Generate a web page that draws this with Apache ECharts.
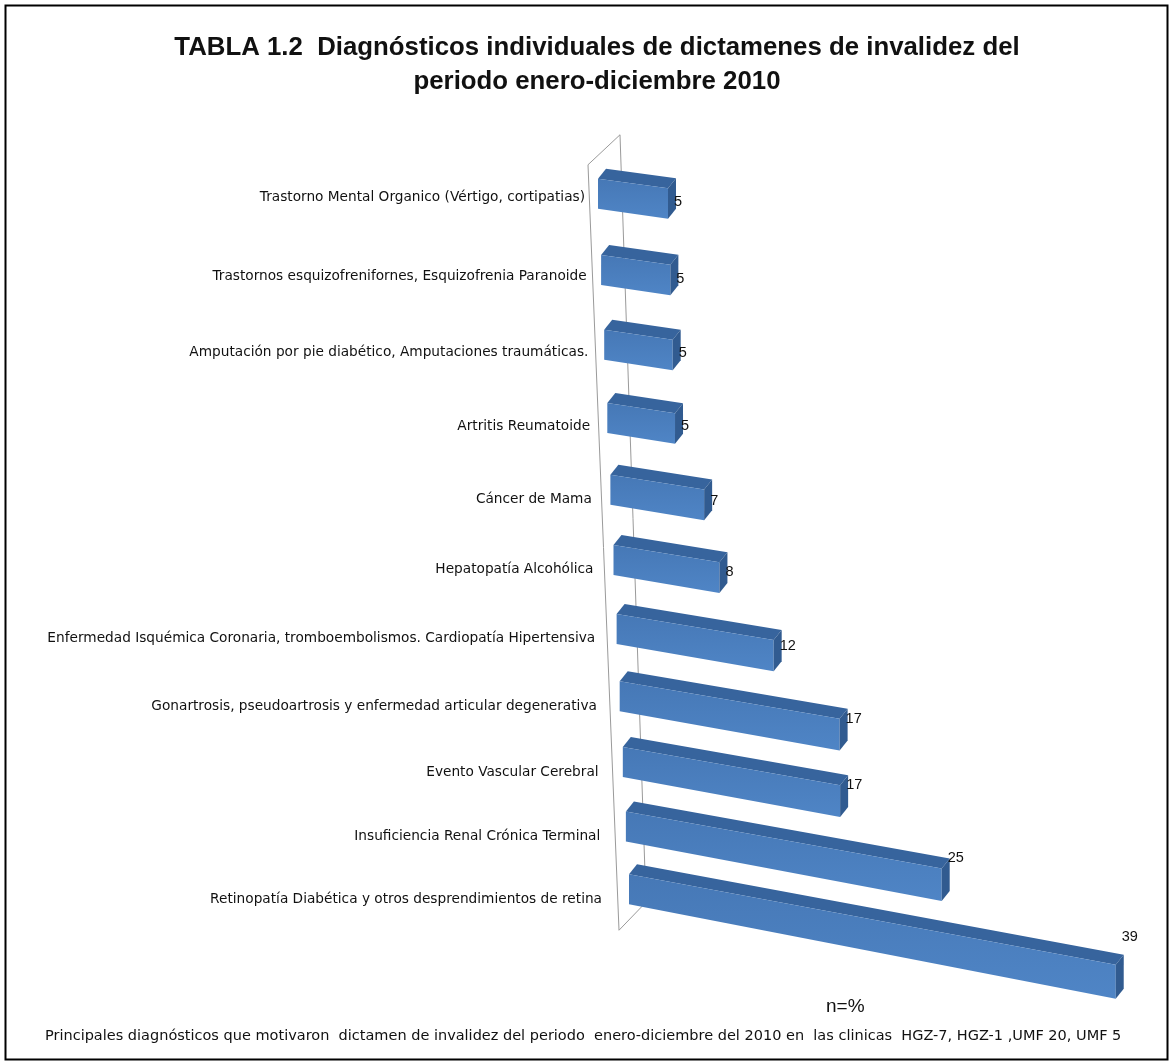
<!DOCTYPE html>
<html>
<head>
<meta charset="utf-8">
<script src="https://cdn.jsdelivr.net/npm/echarts/dist/echarts.min.js"></script>
<style>
html,body{margin:0;padding:0;background:#fff;}
#chart{width:1169px;height:1062px;}
</style>
</head>
<body>
<div id="chart"></div>
<script>
// ---- data (top to bottom as drawn) ----
const categories = [
  'Trastorno Mental Organico (Vértigo, cortipatias)',
  'Trastornos esquizofrenifornes, Esquizofrenia Paranoide',
  'Amputación por pie diabético, Amputaciones traumáticas.',
  'Artritis Reumatoide',
  'Cáncer de Mama',
  'Hepatopatía Alcohólica',
  'Enfermedad Isquémica Coronaria, tromboembolismos. Cardiopatía Hipertensiva',
  'Gonartrosis, pseudoartrosis y enfermedad articular degenerativa',
  'Evento Vascular Cerebral',
  'Insuficiencia Renal Crónica Terminal',
  'Retinopatía Diabética y otros desprendimientos de retina'
];
const values = [5, 5, 5, 5, 7, 8, 12, 17, 17, 25, 39];
const titleLines = [
  'TABLA 1.2  Diagnósticos individuales de dictamenes de invalidez del',
  'periodo enero-diciembre 2010'
];
const unitNote = 'n=%';
const footNote = 'Principales diagnósticos que motivaron  dictamen de invalidez del periodo  enero-diciembre del 2010 en  las clinicas  HGZ-7, HGZ-1 ,UMF 20, UMF 5';

// ---- styling / 3D projection parameters ----
const N = categories.length;
const COL_FRONT_TOP = '#4678B6';
const COL_FRONT_BOT = '#4F85C6';
const COL_TOP = '#37649D';
const COL_END = '#315B90';
const DEPTH = [8, -10];
const HALF_H = 15;

function projector(api, t) {
  const c0 = api.coord([0, 0]);
  const c1 = api.coord([0, N - 1]);
  const unit = api.size([1, 0])[0];
  const yRow = c0[1] + (c1[1] - c0[1]) * (1.107 * t - 0.107 * t * t);
  const xL = c0[0] + 31 * t;
  const sc = unit * (1.077 - 0.117 * t);
  const s = 0.14 + 0.05 * t;
  return { yRow, xL, sc, s, x0: c0[0] };
}

function renderBar(params, api) {
  const i = api.value(0);
  const v = api.value(1);
  const t = i / (N - 1);
  const g = projector(api, t);
  const L = v * g.sc;
  const TL = [g.xL, g.yRow - HALF_H];
  const BL = [g.xL, g.yRow + HALF_H];
  const TR = [g.xL + L, g.yRow - HALF_H + (g.s - 0.004) * L];
  const BR = [g.xL + L, g.yRow + HALF_H + (g.s + 0.004) * L];
  const d = (p) => [p[0] + DEPTH[0], p[1] + DEPTH[1]];
  const labelDy = 10 - 6 * Math.pow(1 - t, 4);
  const children = [
    { type: 'polygon', shape: { points: [TL, d(TL), d(TR), TR] }, style: { fill: COL_TOP } },
    { type: 'polygon', shape: { points: [TL, TR, BR, BL] },
      style: { fill: new echarts.graphic.LinearGradient(0, 0, 0, 1, [
        { offset: 0, color: COL_FRONT_TOP }, { offset: 1, color: COL_FRONT_BOT }]) } },
    { type: 'polygon', shape: { points: [TR, d(TR), d(BR), BR] }, style: { fill: COL_END } },
    { type: 'text', style: {
        text: String(v), x: TR[0] + 6, y: g.yRow + 0.095 * L + 2,
        align: 'left', verticalAlign: 'middle',
        fontSize: 14.5, fontFamily: 'Liberation Sans, Arial, sans-serif', fill: '#111' } },
    { type: 'text', style: {
        text: categories[i], x: g.x0 - 13 + 17 * t, y: g.yRow + labelDy,
        align: 'right', verticalAlign: 'middle',
        fontSize: 13.7, fontFamily: 'DejaVu Sans, sans-serif', fill: '#111' } }
  ];
  return { type: 'group', children };
}

function renderWall(params, api) {
  const g0 = projector(api, 0);
  const g1 = projector(api, 1);
  const fTop = [g0.xL - 10, g0.yRow - 29];
  const fBot = [g1.xL - 10, g1.yRow + 41];
  const bTop = [fTop[0] + 32, fTop[1] - 30];
  const bBot = [fBot[0] + 27, fBot[1] - 28];
  const st = { stroke: '#9a9a9a', lineWidth: 1, fill: null };
  return { type: 'group', children: [
    { type: 'polyline', shape: { points: [bBot, bTop, fTop, fBot, bBot] }, style: st }
  ] };
}

const chart = echarts.init(document.getElementById('chart'), null, { renderer: 'canvas' });
chart.setOption({
  backgroundColor: '#ffffff',
  animation: false,
  title: {
    text: titleLines.join('\n'),
    left: 592, top: 26, textAlign: 'center',
    textStyle: { fontSize: 25.8, fontWeight: 'bold', lineHeight: 34, color: '#111',
      fontFamily: 'Liberation Sans, Arial, sans-serif' }
  },
  grid: { left: 598, right: 51, top: 159, bottom: 138 },
  xAxis: { type: 'value', min: 0, max: 40, show: false },
  yAxis: { type: 'category', inverse: true, data: categories, show: false },
  series: [
    { type: 'custom', name: 'wall', renderItem: renderWall, data: [[0, 0]],
      encode: { x: 1, y: 0 }, z: 1, silent: true },
    { type: 'custom', name: 'bars', renderItem: renderBar,
      data: values.map((v, i) => [i, v]), encode: { x: 1, y: 0 }, z: 2 }
  ],
  graphic: [
    { type: 'rect', left: 3, top: 3, shape: { width: 1162, height: 1054 },
      style: { fill: null, stroke: '#000', lineWidth: 2 }, silent: true },
    { type: 'text', left: 826, top: 997, style: { text: unitNote, fontSize: 19,
      fontFamily: 'Liberation Sans, Arial, sans-serif', fill: '#111' } },
    { type: 'text', left: 45, top: 1029, style: { text: footNote, fontSize: 14.5,
      fontFamily: 'DejaVu Sans, sans-serif', fill: '#111' } }
  ]
});
</script>
</body>
</html>
